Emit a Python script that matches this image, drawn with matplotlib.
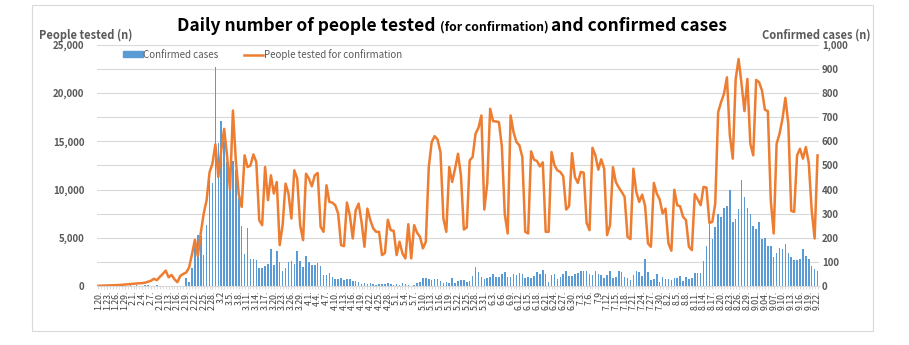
import numpy as np
import pandas as pd
import matplotlib
matplotlib.use('Agg')
import matplotlib.pyplot as plt
from matplotlib.patches import Patch, Rectangle
from matplotlib.lines import Line2D

# daily dates 2020.1.20 - 2020.9.22
dates = pd.date_range('2020-01-20', '2020-09-22', freq='D')

# people tested for confirmation (left axis)
tested = [
    # Jan 20-31
    20, 30, 40, 50, 60, 70, 80, 100, 120, 150, 180, 220,
    # Feb
    250, 260, 280, 300, 350, 450, 550, 750, 600, 950, 1250, 1600, 900, 1150, 700, 400,
    1050, 1250, 1400, 1900, 3300, 4800, 3100, 5500, 7500, 8900, 11800, 12700, 14700,
    # Mar
    11300, 14100, 16300, 13500, 10000, 18200, 13000, 9500, 8200, 13550,
    12340, 12500, 13650, 12860, 6830, 6310, 12340, 8900, 11480, 9590,
    10790, 4240, 6310, 10620, 9590, 7000, 12000, 11140, 6310, 4760, 11650,
    # Apr
    11140, 10340, 11480, 11720, 6140, 5620, 10450, 8720, 8650, 8380,
    7520, 4240, 4140, 8650, 7340, 4930, 7860, 8550, 6650, 4070,
    8030, 6830, 5970, 5620, 5620, 3210, 3420, 6870, 5790, 5720,
    # May
    3210, 4590, 3380, 2860, 6410, 2860, 6310, 5520, 5100, 3900,
    4590, 12340, 14930, 15550, 15200, 13900, 7000, 5620, 12340, 10790,
    12170, 13720, 11480, 5860, 6070, 13030, 13380, 15790, 16410, 17690, 7930,
    # Jun
    10620, 18380, 17100, 17070, 17000, 14480, 7450, 5450, 17690, 15960,
    14930, 14590, 13380, 5620, 5450, 13970, 13100, 12970, 12410, 12830,
    5620, 5620, 13900, 12520, 12000, 11830, 11380, 7930, 8280, 13790,
    # Jul
    11310, 10690, 11830, 11760, 6550, 5790, 14340, 13550, 12070, 13140,
    12170, 5280, 6310, 12340, 10790, 10210, 9760, 9240, 5100, 4860,
    12170, 9760, 8720, 9480, 8310, 4410, 4070, 10690, 9590, 8970, 7520,
    # Aug
    8030, 4410, 3660, 9980, 8380, 8260, 7170, 6830, 4070, 3720,
    9520, 8970, 8380, 10280, 10210, 6550, 6650, 8550, 18030, 19070,
    19930, 21650, 15620, 13210, 21480, 23550, 20960, 18140, 21480, 14760, 13550,
    # Sep 1-22
    21380, 21140, 20280, 18280, 18140, 8900, 5450, 14760, 15790, 17340,
    19520, 16830, 7790, 7690, 13550, 14240, 13210, 14410, 12760, 7860,
    4930, 13550,
]

# confirmed cases (right axis)
confirmed = [
    # Jan 20-31
    1, 0, 0, 0, 1, 0, 1, 1, 0, 0, 2, 5,
    # Feb
    1, 3, 0, 1, 3, 4, 1, 0, 3, 0, 1, 0, 0, 0, 0, 1, 1, 1,
    34, 16, 74, 190, 210, 207, 130, 253, 449, 427, 909,
    # Mar
    595, 686, 600, 516, 438, 518, 483, 367, 248, 131,
    242, 114, 110, 107, 76, 74, 84, 93, 152, 87,
    147, 98, 64, 76, 100, 104, 91, 146, 105, 78, 125,
    # Apr
    101, 89, 86, 94, 81, 47, 47, 53, 39, 27,
    30, 32, 25, 27, 27, 22, 22, 18, 8, 13,
    9, 11, 8, 6, 10, 10, 10, 14, 9, 4,
    # May
    9, 6, 13, 8, 3, 2, 4, 12, 18, 34,
    35, 27, 26, 29, 27, 19, 13, 15, 13, 32,
    12, 20, 23, 25, 16, 19, 40, 79, 58, 39, 27,
    # Jun
    35, 38, 49, 39, 39, 51, 57, 38, 38, 50,
    45, 56, 48, 34, 37, 34, 43, 59, 49, 67,
    48, 17, 46, 51, 28, 39, 51, 62, 42, 43,
    # Jul
    51, 54, 63, 63, 61, 48, 44, 63, 50, 45,
    35, 44, 62, 33, 39, 61, 60, 39, 34, 26,
    45, 63, 59, 41, 113, 58, 25, 28, 48, 18, 36,
    # Aug
    31, 30, 23, 34, 33, 43, 20, 36, 28, 34,
    54, 56, 56, 103, 166, 279, 197, 246, 297, 288,
    324, 332, 397, 266, 280, 320, 441, 371, 323, 299, 248,
    # Sep 1-22
    235, 267, 195, 198, 168, 167, 119, 136, 156, 155,
    176, 136, 121, 109, 106, 113, 153, 126, 110, 82,
    70, 61,
]

# x tick labels, every third day
date_labels = [
    '1.20.', '1.23.', '1.26.', '1.29.', '2.1.', '2.4.', '2.7.', '2.10.', '2.13.', '2.16.',
    '2.19.', '2.22.', '2.25.', '2.28.', '3.2', '3.5.', '3.8.', '3.11.', '3.14.', '3.17.',
    '3.20.', '3.23.', '3.26.', '3.29.', '4.1.', '4.4.', '4.7.', '4.10.', '4.13.', '4.16.',
    '4.19.', '4.22.', '4.25.', '4.28.', '5.1.', '5.4.', '5.7.', '5.10.', '5.13.', '5.16.',
    '5.19.', '5.22.', '5.25.', '5.28.', '5.31.', '6.3.', '6.6.', '6.9.', '6.12.', '6.15.',
    '6.18.', '6.21.', '6.24.', '6.27.', '6.30.', '7.3.', '7.6.', '7,9', '7.12.', '7.15.',
    '7.18.', '7.21.', '7.24.', '7.27.', '7.30.', '8.2.', '8.5.', '8.8.', '8.11.', '8.14.',
    '8.17.', '8.20.', '8.23.', '8.26.', '8.29.', '9.01.', '9.04.', '9.07.', '9.10.', '9.13.',
    '9.16.', '9.19.', '9.22.',
]

left_ticks = [0, 5000, 10000, 15000, 20000, 25000]
right_ticks = [0, 100, 200, 300, 400, 500, 600, 700, 800, 900, 1000]

BLUE = '#5B9BD5'
ORANGE = '#ED7D31'
GRAY = '#595959'
GRID = '#D9D9D9'
FONT = ['Noto Sans CJK KR', 'DejaVu Sans']

plt.rcParams['font.family'] = FONT

W, H = 909, 345
fig = plt.figure(figsize=(W / 100, H / 100), dpi=100)

# chart border
fig.patches.append(Rectangle((32 / W, 1 - 331 / H), (873 - 32) / W, (331 - 5) / H,
                             transform=fig.transFigure, fill=False,
                             edgecolor=GRID, lw=0.8))

ax = fig.add_axes([97 / W, 1 - 286 / H, (819 - 97) / W, (286 - 45) / H])
axb = ax.twinx()
ax.set_zorder(axb.get_zorder() + 1)
ax.patch.set_visible(False)

x = np.arange(len(dates))

# bars - confirmed cases
axb.bar(x, confirmed, width=0.55, color=BLUE, zorder=2)
axb.set_ylim(0, 1000)
axb.set_yticks(right_ticks)
axb.set_yticklabels(['{:,}'.format(v) for v in right_ticks])
axb.grid(axis='y', color=GRID, lw=0.8)
axb.set_axisbelow(True)

# line - people tested
ax.plot(x, tested, color=ORANGE, lw=1.8, zorder=3)
ax.set_ylim(0, 25000)
ax.set_yticks(left_ticks)
ax.set_yticklabels(['{:,}'.format(v) for v in left_ticks])
ax.set_xlim(-0.5, len(x) - 0.5)

ax.set_xticks(x[::3])
ax.set_xticklabels(date_labels, rotation=90)
ax.set_xticks(x, minor=True)
ax.tick_params(axis='x', which='both', length=2.5, color=GRID, labelsize=6.3,
               labelcolor='#404040', pad=1)
ax.tick_params(axis='y', length=0, labelsize=7, labelcolor=GRAY, pad=9)
axb.tick_params(axis='y', length=0, labelsize=7, labelcolor=GRAY, pad=2)
for lbl in ax.get_yticklabels() + axb.get_yticklabels():
    lbl.set_fontweight('bold')

for a in (ax, axb):
    for s in a.spines.values():
        s.set_visible(False)
ax.spines['bottom'].set_visible(True)
ax.spines['bottom'].set_color(GRID)

# legend
handles = [Patch(color=BLUE), Line2D([], [], color=ORANGE, lw=1.8)]
ax.legend(handles, ['Confirmed cases', 'People tested for confirmation'],
          loc='upper left', bbox_to_anchor=(0.024, 1.02), ncol=2, frameon=False,
          fontsize=7, handlelength=2.0, handleheight=0.55, handletextpad=0.1,
          columnspacing=2.6, labelcolor=GRAY)

# axis titles
fig.text(39 / W, 1 - 35 / H, 'People tested (n)', ha='left', va='center',
         fontsize=8, color=GRAY, fontweight='bold')
fig.text(871 / W, 1 - 35 / H, 'Confirmed cases (n)', ha='right', va='center',
         fontsize=8, color=GRAY, fontweight='bold')

# title, in three pieces of two sizes
fig.canvas.draw()
renderer = fig.canvas.get_renderer()
pieces = [('Daily number of people tested ', 12.5),
          ('(for confirmation) ', 8.8),
          ('and confirmed cases', 12.5)]
xpos = 177
for txt, size in pieces:
    t = fig.text(xpos / W, 1 - 31 / H, txt, ha='left', va='baseline',
                 fontsize=size, fontweight='bold', color='black')
    xpos += t.get_window_extent(renderer).width

fig.savefig('out.png', dpi=100)
